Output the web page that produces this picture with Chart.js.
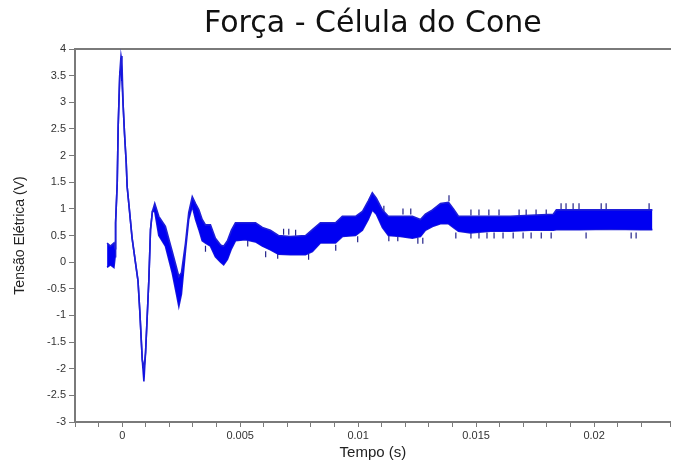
<!DOCTYPE html>
<html>
<head>
<meta charset="utf-8">
<script src="https://cdn.jsdelivr.net/npm/chart.js@4"></script>
<style>
  html, body { margin: 0; padding: 0; background: #fff; }
  canvas { display: block; }
</style>
</head>
<body>
<canvas id="forceChart" width="676" height="464"></canvas>
<script>
// time (s) and the upper / lower edge of the signal band (V)
const timeS = [-0.00064, -0.0005, -0.00035, -0.0003, -0.00028, -0.00021, -0.00017, -0.0001, -0.00005, -0.00001,
  0.00004, 0.0001, 0.00017, 0.00021, 0.00028, 0.00042, 0.00056, 0.00067, 0.00075, 0.00085,
  0.00092, 0.00099, 0.00106, 0.00113, 0.0012, 0.00128, 0.00138, 0.00155, 0.00183, 0.00212,
  0.0023, 0.0024, 0.00251, 0.00268, 0.00282, 0.00297, 0.00311, 0.00325, 0.00339, 0.00353,
  0.00374, 0.00395, 0.00417, 0.0043, 0.00446, 0.00463, 0.0048, 0.00522, 0.00565, 0.00594,
  0.00628, 0.00662, 0.00713, 0.00777, 0.00806, 0.0084, 0.00904, 0.00933, 0.00989, 0.01018,
  0.01043, 0.0106, 0.01077, 0.01103, 0.01128, 0.01179, 0.0123, 0.01264, 0.01285, 0.01315,
  0.01349, 0.01383, 0.01404, 0.01425, 0.01476, 0.01561, 0.01645, 0.0173, 0.01827, 0.0184,
  0.01942, 0.0207, 0.02197, 0.02247];
const upperV = [0.36, 0.3, 0.36, 0.25, 0.74, 1.49, 2.55, 3.56, 3.87, 3.75,
  2.95, 2.4, 1.87, 1.42, 1.1, 0.45, 0.0, -0.35, -0.95, -1.83,
  -2.0, -1.7, -1.02, -0.33, 0.61, 0.95, 1.1, 0.86, 0.67, 0.2,
  -0.1, -0.27, -0.2, 0.35, 0.93, 1.23, 1.1, 0.98, 0.8, 0.7,
  0.7, 0.45, 0.32, 0.3, 0.4, 0.6, 0.74, 0.74, 0.74, 0.65,
  0.6, 0.5, 0.48, 0.5, 0.61, 0.74, 0.74, 0.86, 0.86, 0.95,
  1.15, 1.3, 1.2, 0.98, 0.86, 0.86, 0.86, 0.8, 0.9, 0.98,
  1.1, 1.12, 1.0, 0.86, 0.86, 0.86, 0.86, 0.88, 0.9, 0.98,
  0.98, 0.98, 0.98, 0.98];
const lowerV = [-0.1, -0.05, -0.1, 0.1, 0.74, 1.49, 2.55, 3.56, 3.6, 3.4,
  2.95, 2.4, 1.87, 1.42, 1.1, 0.45, 0.0, -0.35, -0.95, -1.83,
  -2.24, -1.7, -1.02, -0.33, 0.61, 0.95, 0.95, 0.5, 0.3, -0.2,
  -0.6, -0.83, -0.6, 0.2, 0.8, 1.05, 0.8, 0.61, 0.4, 0.36,
  0.3, 0.1, 0.0, -0.05, 0.05, 0.25, 0.4, 0.42, 0.38, 0.3,
  0.23, 0.15, 0.14, 0.14, 0.2, 0.36, 0.36, 0.48, 0.5, 0.6,
  0.8, 0.98, 0.9, 0.65, 0.5, 0.48, 0.45, 0.48, 0.6, 0.67,
  0.72, 0.72, 0.65, 0.58, 0.55, 0.58, 0.58, 0.6, 0.6, 0.61,
  0.61, 0.62, 0.61, 0.61];

// isolated samples poking out of the band
const spikeUpT = [0.00684, 0.00706, 0.00735, 0.01109, 0.0119, 0.01223, 0.01385, 0.01478, 0.01512, 0.01554,
  0.01597, 0.01682, 0.01712, 0.01754, 0.01797, 0.0186, 0.01881, 0.01911, 0.01936, 0.0203, 0.02051, 0.02233];
const spikeUpV = [0.57, 0.57, 0.55, 1.0, 0.95, 0.95, 1.2, 0.93, 0.93, 0.93,
  0.93, 0.93, 0.93, 0.93, 0.93, 1.05, 1.05, 1.05, 1.05, 1.05, 1.05, 1.05];
const spikeDownT = [0.00353, 0.00532, 0.00608, 0.00659, 0.0079, 0.00905, 0.00998, 0.0113, 0.01168, 0.01253,
  0.01274, 0.01414, 0.01478, 0.01512, 0.01546, 0.01576, 0.01614, 0.01657, 0.01699, 0.01733,
  0.01776, 0.01818, 0.01966, 0.02157, 0.02178];
const spikeDownV = [0.25, 0.35, 0.15, 0.12, 0.1, 0.27, 0.43, 0.45, 0.45, 0.4,
  0.4, 0.5, 0.5, 0.5, 0.5, 0.5, 0.5, 0.5, 0.5, 0.5,
  0.5, 0.5, 0.5, 0.5, 0.5];

const xLabelTicks = [0, 0.005, 0.01, 0.015, 0.02];

const toPoints = (xs, ys) => xs.map((x, i) => ({ x, y: ys[i] }));
const spikeT = spikeUpT.concat(spikeDownT);
const spikeV = spikeUpV.concat(spikeDownV);

const axisGray = '#7a7a7a';
const tickFont = { family: 'Liberation Sans, Arial, sans-serif', size: 11 };
const xMin = -0.002;
const xMax = 0.02325;

new Chart(document.getElementById('forceChart'), {
  type: 'line',
  data: {
    datasets: [
      {
        data: toPoints(timeS, upperV),
        borderColor: '#1f1fd8',
        backgroundColor: '#0000f2',
        borderWidth: 1.6,
        pointRadius: 0,
        fill: '+1'
      },
      {
        data: toPoints(timeS, lowerV),
        borderColor: '#1f1fd8',
        borderWidth: 1.6,
        pointRadius: 0,
        fill: false
      },
      {
        data: toPoints(spikeT, spikeV),
        showLine: false,
        pointStyle: 'line',
        rotation: 90,
        pointRadius: 3,
        borderColor: '#22228a',
        borderWidth: 1.2
      }
    ]
  },
  options: {
    responsive: false,
    animation: false,
    devicePixelRatio: 1,
    layout: { padding: { left: 12, right: 0, top: 0, bottom: 0 } },
    plugins: {
      legend: { display: false },
      tooltip: { enabled: false },
      title: {
        display: true,
        fullSize: false,
        text: 'Força - Célula do Cone',
        color: '#111',
        font: { family: 'DejaVu Sans, sans-serif', size: 30, weight: 'normal' },
        padding: { top: 6, bottom: 7 }
      }
    },
    scales: {
      x: {
        type: 'linear',
        min: xMin,
        max: xMax,
        border: { color: axisGray, width: 2 },
        grid: { drawOnChartArea: false, color: axisGray, tickLength: 5 },
        ticks: {
          stepSize: 0.001,
          autoSkip: false,
          maxRotation: 0,
          color: '#333',
          font: tickFont,
          padding: 2,
          callback: (v) => xLabelTicks.some(t => Math.abs(t - v) < 1e-9) ? String(+v.toFixed(4)) : ''
        },
        title: {
          display: true,
          text: 'Tempo (s)',
          color: '#222',
          font: { family: 'Liberation Sans, Arial, sans-serif', size: 15 },
          padding: { top: 0, bottom: 2 }
        },
        afterFit: (axis) => { axis.height = 42; }
      },
      xTop: {
        type: 'linear',
        position: 'top',
        min: xMin,
        max: xMax,
        border: { color: axisGray, width: 2 },
        grid: { display: false },
        ticks: { display: false },
        afterFit: (axis) => { axis.height = 0; }
      },
      y: {
        min: -3,
        max: 4,
        border: { color: axisGray, width: 2 },
        grid: { drawOnChartArea: false, color: axisGray, tickLength: 6 },
        ticks: {
          stepSize: 0.5,
          color: '#333',
          font: tickFont,
          padding: 3,
          callback: (v) => String(+v.toFixed(2))
        },
        title: {
          display: true,
          text: 'Tensão Elétrica (V)',
          color: '#222',
          font: { family: 'Liberation Sans, Arial, sans-serif', size: 14 },
          padding: { top: 0, bottom: 0 }
        },
        afterFit: (axis) => { axis.width = 63; }
      }
    }
  }
});
</script>
</body>
</html>
